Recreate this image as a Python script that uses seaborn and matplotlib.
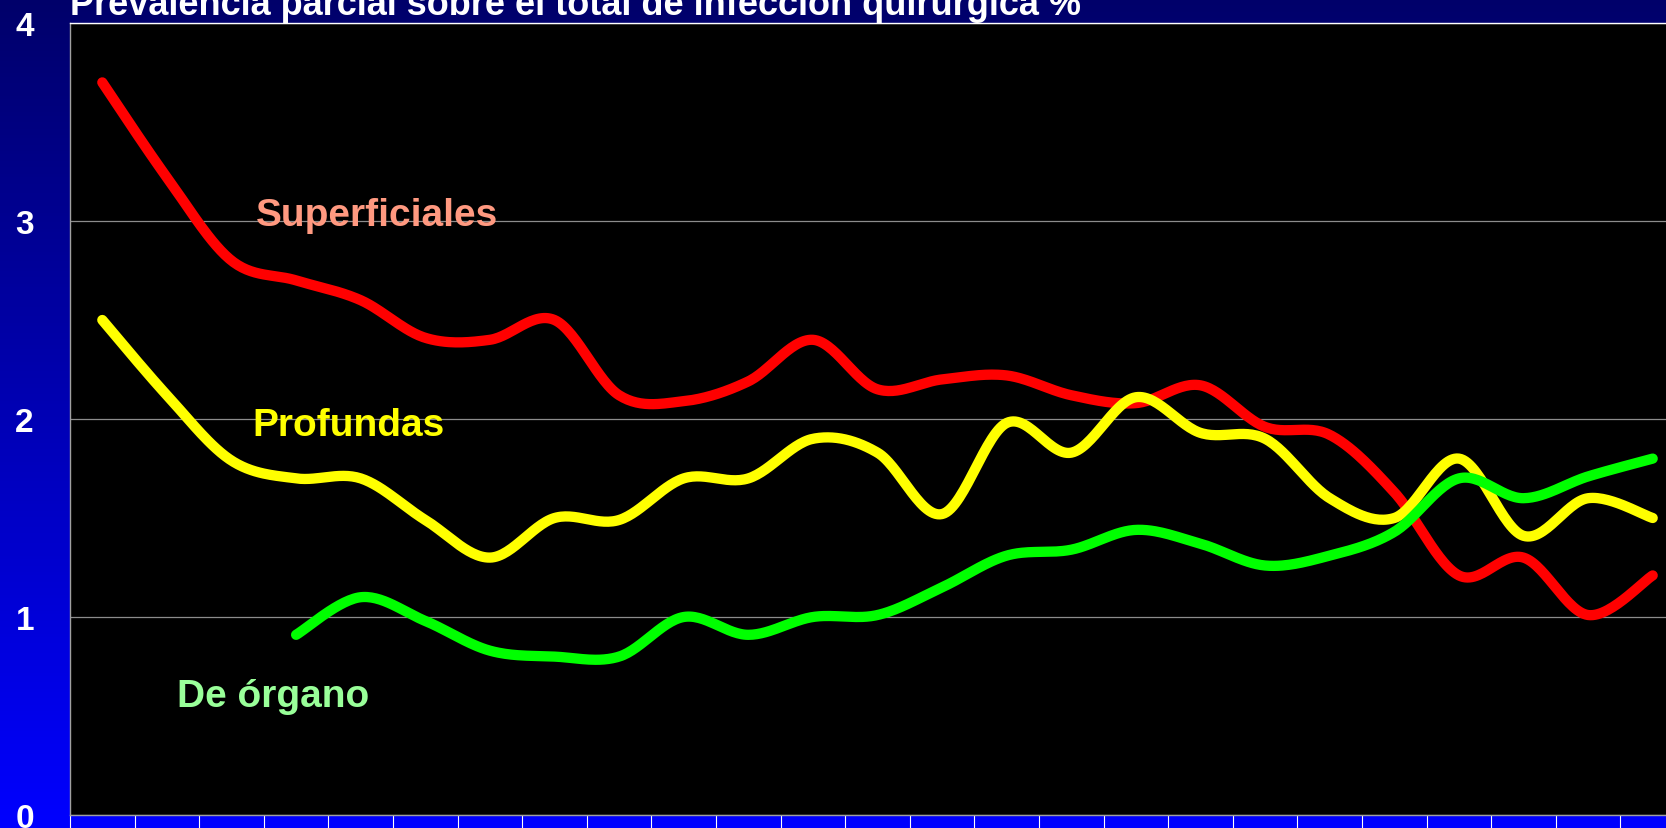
import numpy as np
import matplotlib
matplotlib.use("Agg")
import matplotlib.pyplot as plt
import seaborn as sns
from matplotlib.colors import LinearSegmentedColormap

# ---- data ----
categories = list(range(25))
superficiales = [3.70, 3.22, 2.80, 2.70, 2.60, 2.41, 2.40, 2.50, 2.12, 2.09, 2.19, 2.40,
                 2.15, 2.20, 2.22, 2.12, 2.08, 2.17, 1.96, 1.92, 1.63, 1.21, 1.30, 1.01, 1.21]
profundas = [2.50, 2.12, 1.79, 1.70, 1.70, 1.49, 1.30, 1.50, 1.49, 1.70, 1.70, 1.90,
             1.83, 1.52, 1.98, 1.83, 2.11, 1.93, 1.90, 1.60, 1.50, 1.80, 1.41, 1.60, 1.50]
organo_start = 3
organo = [0.91, 1.10, 0.98, 0.83, 0.80, 0.80, 1.00, 0.91, 1.00,
          1.01, 1.15, 1.31, 1.34, 1.44, 1.37, 1.26, 1.31, 1.43, 1.70, 1.60, 1.71, 1.80]
yticks = [0, 1, 2, 3, 4]
title = "Prevalencia parcial sobre el total de infección quirúrgica %"
series_labels = ["Superficiales", "Profundas", "De órgano"]


def smooth(xs, ys, n=30):
    """Excel-style smoothed line (cubic Bezier with Catmull-Rom tangents)."""
    xs = np.asarray(xs, float)
    ys = np.asarray(ys, float)
    P = np.column_stack([xs, ys])
    out = []
    for i in range(len(P) - 1):
        p0 = P[i - 1] if i > 0 else P[i]
        p1 = P[i]
        p2 = P[i + 1]
        p3 = P[i + 2] if i + 2 < len(P) else P[i + 1]
        c1 = p1 + (p2 - p0) / 6.0
        c2 = p2 - (p3 - p1) / 6.0
        t = np.linspace(0, 1, n, endpoint=(i == len(P) - 2))[:, None]
        seg = ((1 - t) ** 3) * p1 + 3 * ((1 - t) ** 2) * t * c1 + 3 * (1 - t) * t ** 2 * c2 + t ** 3 * p2
        out.append(seg)
    seg = np.vstack(out)
    return seg[:, 0], seg[:, 1]


W, H = 1666, 829
fig = plt.figure(figsize=(W / 100, H / 100), dpi=100)

# background gradient
bg = fig.add_axes([0, 0, 1, 1], zorder=-10)
grad = np.linspace(0, 1, 256).reshape(-1, 1)
cmap = LinearSegmentedColormap.from_list("bg", ["#00006A", "#0000FF"])
bg.imshow(grad, aspect="auto", cmap=cmap, extent=[0, 1, 0, 1], origin="upper")
bg.set_axis_off()

# plot axes (extends past the right edge like the reference)
ax = fig.add_axes([70 / W, 13 / H, 1615 / W, 792 / H])
ax.set_facecolor("black")

fam = ["Liberation Sans", "DejaVu Sans"]

for xs, ys, col in [
    (categories, superficiales, "#FF0000"),
    (categories, profundas, "#FFFF00"),
    (categories[organo_start:organo_start + len(organo)], organo, "#00FF00"),
]:
    sx, sy = smooth(xs, ys)
    sns.lineplot(x=sx, y=sy, sort=False, estimator=None, color=col, linewidth=7.4,
                 solid_capstyle="round", ax=ax, zorder=3)

ax.set_xlim(-0.5, 24.5)
ax.set_ylim(0, 4)
ax.set_yticks(yticks)
ax.set_yticklabels([str(v) for v in yticks], color="white", fontsize=24,
                   fontweight="bold", family=fam)
ax.tick_params(axis="y", length=0, pad=26)
ax.set_xticks(np.arange(-0.5, 25, 1))
ax.set_xticklabels([])
ax.tick_params(axis="x", direction="out", length=11, width=0.8, color="white")
ax.yaxis.grid(True, color="#8C8C8C", linewidth=0.9)
ax.xaxis.grid(False)
ax.set_axisbelow(True)
for side in ["left", "bottom"]:
    ax.spines[side].set_color("#A0A0A0")
    ax.spines[side].set_linewidth(1)
ax.spines["top"].set_color("white")
ax.spines["top"].set_linewidth(1)
ax.spines["right"].set_visible(False)
ax.set_xlabel("")
ax.set_ylabel("")

# series labels
ax.text(2.38, 2.98, series_labels[0], color="#FF9980", fontsize=28, fontweight="bold",
        family=fam, ha="left", va="baseline", zorder=4)
ax.text(2.33, 1.92, series_labels[1], color="#FFFF00", fontsize=28, fontweight="bold",
        family=fam, ha="left", va="baseline", zorder=4)
ax.text(1.16, 0.548, series_labels[2], color="#99FF99", fontsize=28, fontweight="bold",
        family=fam, ha="left", va="baseline", zorder=4)

# title (partially cut at the top as in the reference)
fig.text(70 / W, 1 - 15 / H, title, color="white", fontsize=26, fontweight="bold",
         family=fam, ha="left", va="baseline")

fig.savefig("out.png", dpi=100)
